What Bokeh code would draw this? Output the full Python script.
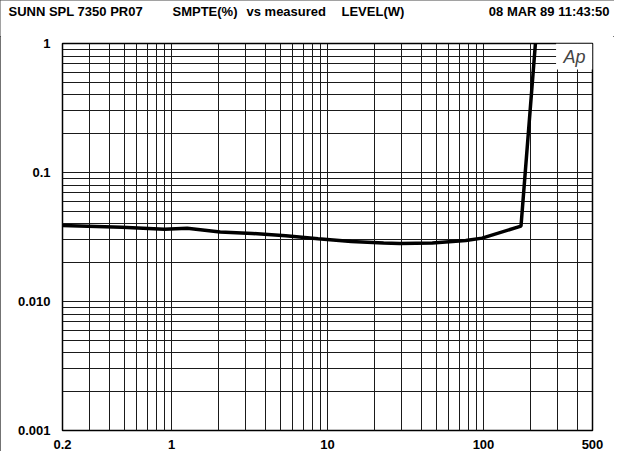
from bokeh.plotting import figure
from bokeh.layouts import column
from bokeh.models import FixedTicker, Label, BoxAnnotation, Range1d
from bokeh.embed import file_html
from bokeh.resources import INLINE

# measured level (W) and SMPTE IMD (%)
level_w = [0.2, 0.48, 0.9, 1.26, 2.05, 3.3, 5.4, 8.7, 14.2, 22.9, 29, 47, 77, 98, 174, 222]
smpte_pct = [0.0388, 0.0376, 0.0363, 0.037, 0.0346, 0.0337, 0.0324, 0.0306, 0.0292,
             0.0284, 0.0281, 0.0284, 0.0297, 0.031, 0.0384, 1.6]

x_ticks = [0.2, 1, 10, 100, 500]
x_tick_labels = ["0.2", "1", "10", "100", "500"]
y_ticks = [0.001, 0.01, 0.1, 1]
y_tick_labels = ["0.001", "0.010", "0.1", "1"]
x_minor = [0.3, 0.4, 0.5, 0.6, 0.7, 0.8, 0.9, 2, 3, 4, 5, 6, 7, 8, 9,
           20, 30, 40, 50, 60, 70, 80, 90, 200, 300, 400]
y_minor = [0.002, 0.003, 0.004, 0.005, 0.006, 0.007, 0.008, 0.009,
           0.02, 0.03, 0.04, 0.05, 0.06, 0.07, 0.08, 0.09,
           0.2, 0.3, 0.4, 0.5, 0.6, 0.7, 0.8, 0.9]

header_left = ["SUNN SPL 7350 PR07", "SMPTE(%)", "vs measured", "LEVEL(W)"]
header_right = ["08 MAR 89 11:43:50"]
corner_mark = "Ap"

FONT = "Liberation Sans"
W = 614
HEAD_H = 36
BL, BR, BT, BB = 62, 22, 7, 17
MAIN_H = 451 - HEAD_H

# ---- header strip (pixel-like coordinates, y grows downward)
head = figure(width=W, height=HEAD_H, x_range=Range1d(0, W), y_range=Range1d(HEAD_H, 0),
              output_backend="svg", toolbar_location=None,
              x_axis_location=None, y_axis_location=None,
              min_border_left=0, min_border_right=0, min_border_top=0, min_border_bottom=0)
head.xgrid.visible = False
head.ygrid.visible = False
head.outline_line_color = None
head.background_fill_color = "white"
head.border_fill_color = "white"
head_left_x = [8, 172, 246, 341]
head_right_x = [609]
head.text(x=head_left_x, y=[11] * len(header_left), text=header_left,
          text_font=dict(value=FONT), text_font_style="bold", text_font_size="13px",
          text_align="left", text_baseline="middle", text_color="black")
head.text(x=head_right_x, y=[11], text=header_right,
          text_font=dict(value=FONT), text_font_style="bold", text_font_size="13px",
          text_align="right", text_baseline="middle", text_color="black")

# ---- main chart
p = figure(width=W, height=MAIN_H, x_axis_type="log", y_axis_type="log",
           x_range=(0.2, 500), y_range=(0.001, 1),
           output_backend="svg", toolbar_location=None,
           min_border_left=BL, min_border_right=BR, min_border_top=BT, min_border_bottom=BB)
p.background_fill_color = "white"
p.border_fill_color = "white"
p.outline_line_color = "black"
p.outline_line_width = 1.5

for fig in (head, p):
    if hasattr(fig, "frame_align"):
        fig.frame_align = False

xt = FixedTicker(ticks=x_ticks, minor_ticks=x_minor)
yt = FixedTicker(ticks=y_ticks, minor_ticks=y_minor)
p.xaxis.ticker = xt
p.yaxis.ticker = yt
p.xgrid.ticker = xt
p.ygrid.ticker = yt
p.xaxis.major_label_overrides = dict(zip(x_ticks, x_tick_labels))
p.yaxis.major_label_overrides = dict(zip(y_ticks, y_tick_labels))

for ax in (p.xaxis, p.yaxis):
    ax.axis_line_color = None
    ax.major_tick_line_color = None
    ax.minor_tick_line_color = None
    ax.major_label_text_font = FONT
    ax.major_label_text_font_style = "bold"
    ax.major_label_text_font_size = "13px"
    ax.major_label_text_color = "black"
p.xaxis.major_label_standoff = 3
p.yaxis.major_label_standoff = 6

for g in (p.xgrid, p.ygrid):
    g.grid_line_color = "#1a1a1a"
    g.grid_line_width = 1
    g.minor_grid_line_color = "#1a1a1a"
    g.minor_grid_line_width = 1

p.add_layout(BoxAnnotation(left=292, right=500, bottom=0.63, top=1,
                           fill_color="white", fill_alpha=1, line_color=None))
p.add_layout(Label(x=384, y=0.79, text=corner_mark, text_font=FONT,
                   text_font_style="italic", text_font_size="18px",
                   text_align="center", text_baseline="middle"))

p.line(level_w, smpte_pct, line_width=3.5, color="black")

layout = column(head, p, spacing=0)
layout.styles = {"outline": "1px solid #444", "outline-offset": "-1px"}

open("out.html", "w").write(file_html(layout, INLINE))
